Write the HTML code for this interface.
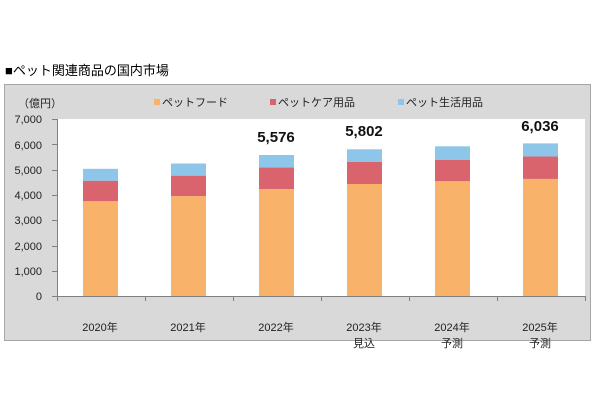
<!DOCTYPE html>
<html><head><meta charset="utf-8"><style>
body{margin:0;background:#fff;width:600px;height:400px;overflow:hidden}
text{font-family:"Liberation Sans","Noto Sans CJK JP",sans-serif}
</style></head><body>
<svg width="600" height="400" xmlns="http://www.w3.org/2000/svg">
<text x="5" y="75" font-size="13" fill="#000">■ペット関連商品の国内市場</text>
<rect x="4.5" y="84.5" width="586" height="256" fill="#d9d9d9" stroke="#a6a6a6"/>
<rect x="57" y="119" width="528" height="177" fill="#fff"/>
<text x="18" y="107" font-size="11" fill="#222">（億円）</text>
<rect x="154" y="99" width="6" height="6" fill="#f9b26a"/><text x="162" y="106" font-size="11" fill="#222">ペットフード</text>
<rect x="270" y="99" width="6" height="6" fill="#d9646e"/><text x="278" y="106" font-size="11" fill="#222">ペットケア用品</text>
<rect x="398" y="99" width="6" height="6" fill="#8dc6e8"/><text x="406" y="106" font-size="11" fill="#222">ペット生活用品</text>
<g font-size="11" fill="#222" text-anchor="end">
<text x="42" y="300">0</text><text x="42" y="275">1,000</text><text x="42" y="250">2,000</text><text x="42" y="224">3,000</text><text x="42" y="199">4,000</text><text x="42" y="174">5,000</text><text x="42" y="149">6,000</text><text x="42" y="123">7,000</text>
</g>
<g id="bars"></g>
<script>
var d=[[3750,4560,5030],[3950,4760,5240],[4230,5080,5576],[4430,5300,5802],[4540,5390,5920],[4630,5520,6036]];
var g=document.getElementById('bars'),ns='http://www.w3.org/2000/svg';
function y(v){return 296-v*177/7000;}
var c=['#f9b26a','#d9646e','#8dc6e8'];
d.forEach(function(b,i){var x=83+i*88,prev=0;b.forEach(function(v,k){var r=document.createElementNS(ns,'rect');r.setAttribute('x',x);r.setAttribute('width',35);r.setAttribute('y',y(v));r.setAttribute('height',y(prev)-y(v));r.setAttribute('fill',c[k]);g.appendChild(r);prev=v;});});
</script>
<g fill="none" stroke="#808080">
<path d="M57.5 119V296.5H585"/>
<path d="M52 119.5h5M52 144.5h5M52 170.5h5M52 195.5h5M52 220.5h5M52 246.5h5M52 271.5h5M52 296.5h5"/>
<path d="M57.5 296v5M145.5 296v5M233.5 296v5M321.5 296v5M409.5 296v5M497.5 296v5M585.5 296v5"/>
</g>
<g font-size="15" font-weight="bold" fill="#111" text-anchor="middle">
<text x="276" y="142">5,576</text><text x="364" y="136">5,802</text><text x="540" y="131">6,036</text>
</g>
<g font-size="11" fill="#222" text-anchor="middle">
<text x="100" y="331">2020年</text><text x="188" y="331">2021年</text><text x="276" y="331">2022年</text>
<text x="364" y="331">2023年</text><text x="364" y="347">見込</text>
<text x="452" y="331">2024年</text><text x="452" y="347">予測</text>
<text x="540" y="331">2025年</text><text x="540" y="347">予測</text>
</g>
</svg>
</body></html>
